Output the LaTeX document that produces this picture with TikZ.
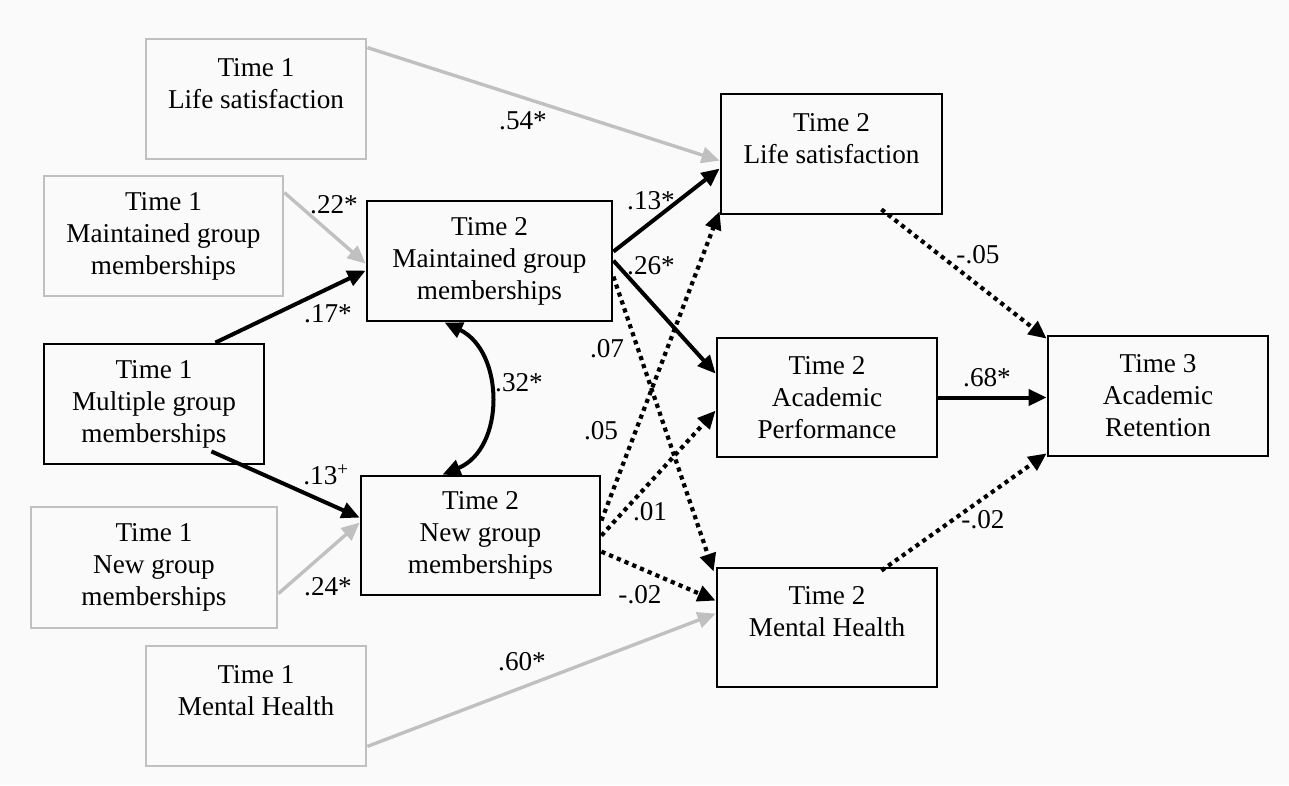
\documentclass[tikz,border=0pt]{standalone}
\usepackage{fontspec}
\setmainfont{Liberation Serif}
\usetikzlibrary{arrows.meta,calc}
\definecolor{bgc}{RGB}{250,250,250}
\definecolor{lgray}{RGB}{192,192,192}
\begin{document}
\begin{tikzpicture}[x=1pt,y=-1pt,
  every node/.style={font=\fontsize{27.2}{32}\selectfont},
  bbox/.style={draw=black, line width=2.8pt, inner sep=0pt, align=center},
  gbox/.style={draw=lgray, line width=2.8pt, inner sep=0pt, align=center},
  tipa/.style={-{Triangle[length=18pt,width=16pt]}},
  blk/.style={line width=4pt, tipa},
  gry/.style={draw=lgray, line width=3.4pt, tipa},
  dotarrow/.style={line width=4.2pt, dash pattern=on 4.2pt off 4.2pt, tipa},
  lbl/.style={inner sep=0pt}
]
\fill[bgc] (0,0) rectangle (1289,785);
\useasboundingbox (0,0) rectangle (1289,785);

% Time 1 boxes
\node[gbox, minimum width=220pt, minimum height=120pt] (t1ls) at (256,99) {Time 1\\Life satisfaction\\\mbox{}};
\node[gbox, minimum width=239pt, minimum height=120pt] (t1mg) at (163.5,236) {Time 1\\Maintained group\\memberships};
\node[bbox, minimum width=220pt, minimum height=120pt] (t1mu) at (154,404) {Time 1\\Multiple group\\memberships};
\node[gbox, minimum width=246pt, minimum height=121pt] (t1ng) at (154,567.5) {Time 1\\New group\\memberships};
\node[gbox, minimum width=220pt, minimum height=120pt] (t1mh) at (256,706) {Time 1\\Mental Health\\\mbox{}};

% Time 2 group boxes
\node[bbox, minimum width=245pt, minimum height=120pt] (t2mg) at (489.5,261) {Time 2\\Maintained group\\memberships};
\node[bbox, minimum width=239pt, minimum height=119pt] (t2ng) at (480.5,535.5) {Time 2\\New group\\memberships};

% Time 2 outcome boxes
\node[bbox, minimum width=221pt, minimum height=120pt] (t2ls) at (831.5,154) {Time 2\\Life satisfaction\\\mbox{}};
\node[bbox, minimum width=220pt, minimum height=119pt] (t2ap) at (827,397.5) {Time 2\\Academic\\Performance};
\node[bbox, minimum width=220pt, minimum height=119pt] (t2mh) at (827,627.5) {Time 2\\Mental Health\\\mbox{}};

% Time 3
\node[bbox, minimum width=220pt, minimum height=120pt] (t3ar) at (1158,396) {Time 3\\Academic\\Retention};

% gray stability paths
\draw[gry] ([yshift=-10pt]t1ls.north east) -- ([yshift=-68pt]t2ls.north west);
\draw[gry] ([yshift=-18pt]t1mg.north east) -- ([yshift=-64pt]t2mg.north west);
\draw[gry] ([yshift=-88pt]t1ng.north east) -- ([yshift=-48pt]t2ng.north west);
\draw[gry] ([yshift=21pt]t1mh.south east) -- ([yshift=-47pt]t2mh.north west);

% black paths
\draw[blk] ([xshift=-50pt]t1mu.north east) -- ([yshift=-71pt]t2mg.north west);
\draw[blk] ([xshift=-54pt,yshift=14pt]t1mu.south east) -- ([yshift=-43pt]t2ng.north west);
\draw[line width=4pt, {Triangle[length=18pt,width=16pt]}-{Triangle[length=18pt,width=16pt]}]
  ([xshift=-45pt]t2mg.south) .. controls +(60,29) and +(63,-26) .. ([xshift=-38pt]t2ng.north);
\draw[blk] ([yshift=-52pt]t2mg.north east) -- ([yshift=-76pt]t2ls.north west);
\draw[blk] ([yshift=-61pt]t2mg.north east) -- ([yshift=-37pt]t2ap.north west);
\draw[blk] (t2ap.east) -- (t2ap.east -| t3ar.west);

% dotted paths
\draw[dotarrow] ([yshift=-77pt]t2mg.north east) -- ([xshift=-2pt,yshift=-5pt]t2mh.north west);
\draw[dotarrow] ([yshift=-46pt]t2ng.north east) -- ([yshift=4pt]t2ls.south west);
\draw[dotarrow] ([yshift=-61pt]t2ng.north east) -- ([yshift=-74pt]t2ap.north west);
\draw[dotarrow] ([yshift=-77pt]t2ng.north east) -- ([yshift=-34pt]t2mh.north west);
\draw[dotarrow] ([xshift=-62pt,yshift=6pt]t2ls.south east) -- ([yshift=-4pt]t3ar.north west);
\draw[dotarrow] ([xshift=-57pt,yshift=-4pt]t2mh.north east) -- ([yshift=4pt]t3ar.south west);

% labels
\node[lbl] (l54) at (523,121) {.54*};
\node[lbl] (l22) at (334,205) {.22*};
\node[lbl] (l17) at (328,314) {.17*};
\node[lbl] (l13p) at (326,475) {.13\textsuperscript{+}};
\node[lbl] (l24) at (328,587) {.24*};
\node[lbl] (l60) at (522,662) {.60*};
\node[lbl] (l32) at (519,383) {.32*};
\node[lbl] (l13) at (651,201) {.13*};
\node[lbl] (l26) at (651,266) {.26*};
\node[lbl] (l07) at (607,349) {.07};
\node[lbl] (l05) at (601,431) {.05};
\node[lbl] (l01) at (650,512) {.01};
\node[lbl] (lm02a) at (640,595) {-.02};
\node[lbl] (lm05) at (978,255) {-.05};
\node[lbl] (l68) at (987,378) {.68*};
\node[lbl] (lm02b) at (983,520) {-.02};
\end{tikzpicture}
\end{document}
